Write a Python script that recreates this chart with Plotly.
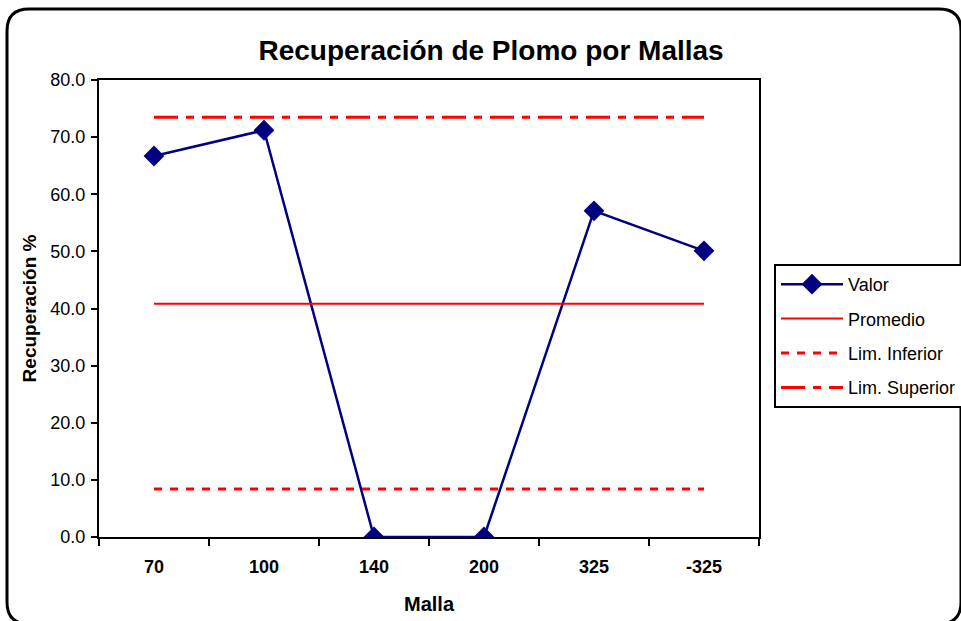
import plotly.graph_objects as go

categories = ["70", "100", "140", "200", "325", "-325"]
valor = [66.7, 71.2, 0.0, 0.0, 57.1, 50.1]
promedio = [40.85] * 6
lim_inferior = [8.4] * 6
lim_superior = [73.5] * 6
y_ticks = [0, 10, 20, 30, 40, 50, 60, 70, 80]

FONT = "Liberation Sans, Arial, sans-serif"

fig = go.Figure()
fig.add_trace(go.Scatter(
    x=categories, y=valor, name="Valor", mode="lines+markers", legendgroup="a",
    line=dict(color="#000080", width=2.5),
    marker=dict(symbol="diamond", size=16, color="#000080"),
))
fig.add_trace(go.Scatter(
    x=categories, y=promedio, name="Promedio", mode="lines", legendgroup="b",
    line=dict(color="#ff0000", width=2),
))
fig.add_trace(go.Scatter(
    x=categories, y=lim_inferior, name="Lim. Inferior", mode="lines", legendgroup="c",
    line=dict(color="#ff0000", width=3, dash="8px,8px"),
))
fig.add_trace(go.Scatter(
    x=categories, y=lim_superior, name="Lim. Superior", mode="lines", legendgroup="d",
    line=dict(color="#ff0000", width=3, dash="24px,8px,8px,8px"),
))

# plot area in pixels: x 99..759, y 80..537
L, R, T, B = 99, 759, 80, 537
W, H = R - L, B - T

def px(x):
    return (x - L) / W

def py(y):
    return (B - y) / H

# rounded outer border
x0, x1, y0, y1, r = 7, 961, 9, 624, 22
path = (
    f"M {px(x0 + r)},{py(y0)} L {px(x1 - r)},{py(y0)} "
    f"Q {px(x1)},{py(y0)} {px(x1)},{py(y0 + r)} "
    f"L {px(x1)},{py(y1 - r)} Q {px(x1)},{py(y1)} {px(x1 - r)},{py(y1)} "
    f"L {px(x0 + r)},{py(y1)} Q {px(x0)},{py(y1)} {px(x0)},{py(y1 - r)} "
    f"L {px(x0)},{py(y0 + r)} Q {px(x0)},{py(y0)} {px(x0 + r)},{py(y0)} Z"
)
fig.add_shape(type="path", path=path, xref="paper", yref="paper",
              line=dict(color="black", width=3), layer="below")

fig.update_layout(
    width=961, height=621,
    margin=dict(l=L, r=961 - R, t=T, b=621 - B, autoexpand=False),
    paper_bgcolor="white", plot_bgcolor="white",
    font=dict(family=FONT, color="black"),
    title=dict(text="<b>Recuperación de Plomo por Mallas</b>", x=0.511, xref="container",
               xanchor="center", y=1 - 50 / 621, yref="container", yanchor="middle",
               font=dict(size=28, family=FONT)),
    showlegend=True,
    legend=dict(x=px(774), y=py(264), xanchor="left", yanchor="top",
                bordercolor="black", borderwidth=2, bgcolor="white",
                font=dict(size=18, family=FONT), itemwidth=62,
                tracegroupgap=8, traceorder="grouped"),
)
fig.update_xaxes(
    type="category", range=[-0.5, 5.5], tickson="boundaries",
    ticks="outside", ticklen=7, tickwidth=2, tickcolor="black",
    showline=True, linecolor="black", linewidth=2, mirror=True,
    showgrid=False, zeroline=False,
    tickfont=dict(size=18, family=FONT), ticklabelstandoff=12,
    tickprefix="<b>", ticksuffix="</b>",
    title=dict(text="<b>Malla</b>", font=dict(size=20, family=FONT), standoff=21),
)
fig.update_yaxes(
    range=[0, 80], tickvals=y_ticks, tickformat=".1f",
    ticks="outside", ticklen=6, tickwidth=1.5, tickcolor="black",
    showline=True, linecolor="black", linewidth=2, mirror=True,
    showgrid=False, zeroline=False,
    tickfont=dict(size=18, family=FONT), ticklabelstandoff=2,
    tickprefix="<b>", ticksuffix="</b>",
    title=dict(text="<b>Recuperación %</b>", font=dict(size=19, family=FONT), standoff=9),
)

fig.write_html("out.html", config={"displayModeBar": False},
               post_script="document.body.style.margin='0px';")
